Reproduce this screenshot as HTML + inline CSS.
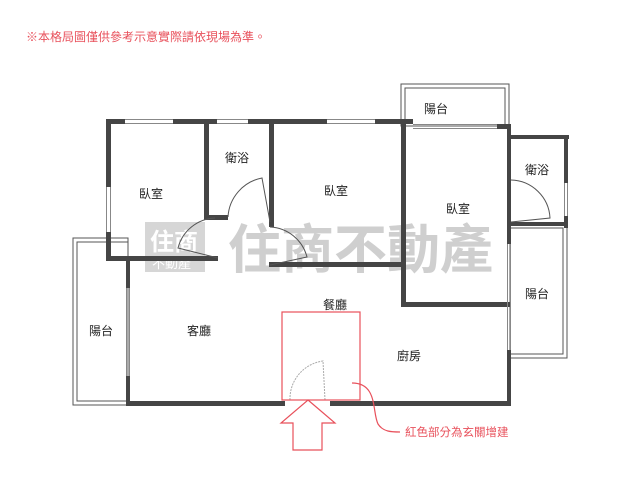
<!DOCTYPE html>
<html><head><meta charset="utf-8"><style>
html,body{margin:0;padding:0;background:#fff;}
svg{display:block;}
text{font-family:"Liberation Sans","Noto Sans CJK TC",sans-serif;}
</style></head><body>
<svg width="640" height="480" viewBox="0 0 640 480" xmlns="http://www.w3.org/2000/svg">
<text x="26" y="41" font-size="12" fill="#e8505b">※本格局圖僅供參考示意實際請依現場為準。</text>

<!-- watermark -->
<g>
<rect x="145" y="222" width="60" height="50" fill="#d6d6d6"/>
<text x="150" y="250" font-size="24" font-weight="bold" fill="#fff">住商</text>
<text x="152" y="268" font-size="13" fill="#fff">不動產</text>
<text x="228" y="268" font-size="53" font-weight="bold" fill="#cfcfcf">住商不動產</text>
</g>

<!-- balconies (thin double lines) -->
<g fill="none" stroke="#555" stroke-width="1">
<rect x="401" y="84" width="108" height="42"/>
<rect x="405" y="88" width="100" height="38"/>
<rect x="510" y="224" width="57" height="134"/>
<rect x="510" y="228" width="53" height="126"/>
<rect x="73" y="238" width="55" height="167"/>
<rect x="77" y="242" width="51" height="159"/>
</g>

<!-- walls -->
<g fill="#454545">
<rect x="106" y="119" width="19" height="5"/>
<rect x="173" y="119" width="44" height="5"/>
<rect x="248" y="119" width="79" height="5"/>
<rect x="375" y="119" width="38" height="5"/>
<rect x="497" y="124" width="13" height="5"/>
<rect x="106" y="119" width="5" height="68"/>
<rect x="106" y="232" width="5" height="28"/>
<rect x="204" y="119" width="5" height="100"/>
<rect x="204" y="215" width="24" height="5"/>
<rect x="269" y="119" width="5" height="108"/>
<rect x="106" y="256" width="112" height="5"/>
<rect x="269" y="262" width="136" height="5"/>
<rect x="126" y="258" width="4" height="30"/>
<rect x="126" y="376" width="4" height="29"/>
<rect x="126" y="401" width="159" height="5"/>
<rect x="330" y="401" width="180" height="5"/>
<rect x="401" y="124" width="5" height="183"/>
<rect x="401" y="302" width="109" height="5"/>
<rect x="507" y="124" width="4" height="101"/>
<rect x="507" y="135" width="62" height="4"/>
<rect x="564" y="135" width="4" height="48"/>
<rect x="564" y="216" width="4" height="12"/>
<rect x="507" y="222" width="61" height="4"/>
<rect x="507" y="224" width="4" height="20"/>
<rect x="507" y="350" width="4" height="56"/>
</g>
<!-- windows -->
<g fill="none" stroke="#888" stroke-width="1">
<path d="M125 119.5H173M125 123.5H173M217 119.5H248M217 123.5H248M327 119.5H375M327 123.5H375M413 124.5H497M413 128.5H497"/>
<path d="M106.5 187V232M110.5 187V232M126.5 288V376M129.5 288V376M564.5 183V216M567.5 183V216M507.5 244V350M510.5 244V350"/>
</g>
<!-- doors -->
<g fill="none" stroke="#555" stroke-width="1">
<path d="M228 217 A42 42 0 0 1 262 178 L270 222"/>
<path d="M218 258 L178 248 A40 40 0 0 1 215 218"/>
<path d="M270 227 A40 40 0 0 1 307 257 L270 265"/>
<path d="M511 180 A40 40 0 0 1 550 218 L511 222"/>
<path d="M290 400 A38 38 0 0 1 323 361 L325 400" stroke="#aaa" stroke-dasharray="2 1"/>
</g>

<!-- red addition -->
<g fill="none" stroke="#e8505b" stroke-width="1.2">
<rect x="282" y="312" width="78" height="88"/>
<path d="M308 400 L335 423 L322 423 L322 450 L293 450 L293 423 L281 423 Z"/>
<path d="M352 383 C378 383 372 412 378 424 C383 432 392 432 400 432"/>
</g>
<text x="405" y="436" font-size="11.5" fill="#e8505b">紅色部分為玄關增建</text>

<!-- labels -->
<g font-size="12" fill="#222">
<text x="424" y="113">陽台</text>
<text x="225" y="162">衛浴</text>
<text x="139" y="198">臥室</text>
<text x="324" y="195">臥室</text>
<text x="446" y="213">臥室</text>
<text x="525" y="174">衛浴</text>
<text x="525" y="298">陽台</text>
<text x="89" y="335">陽台</text>
<text x="187" y="335">客廳</text>
<text x="323" y="309">餐廳</text>
<text x="397" y="360">廚房</text>
</g>
</svg>
</body></html>
